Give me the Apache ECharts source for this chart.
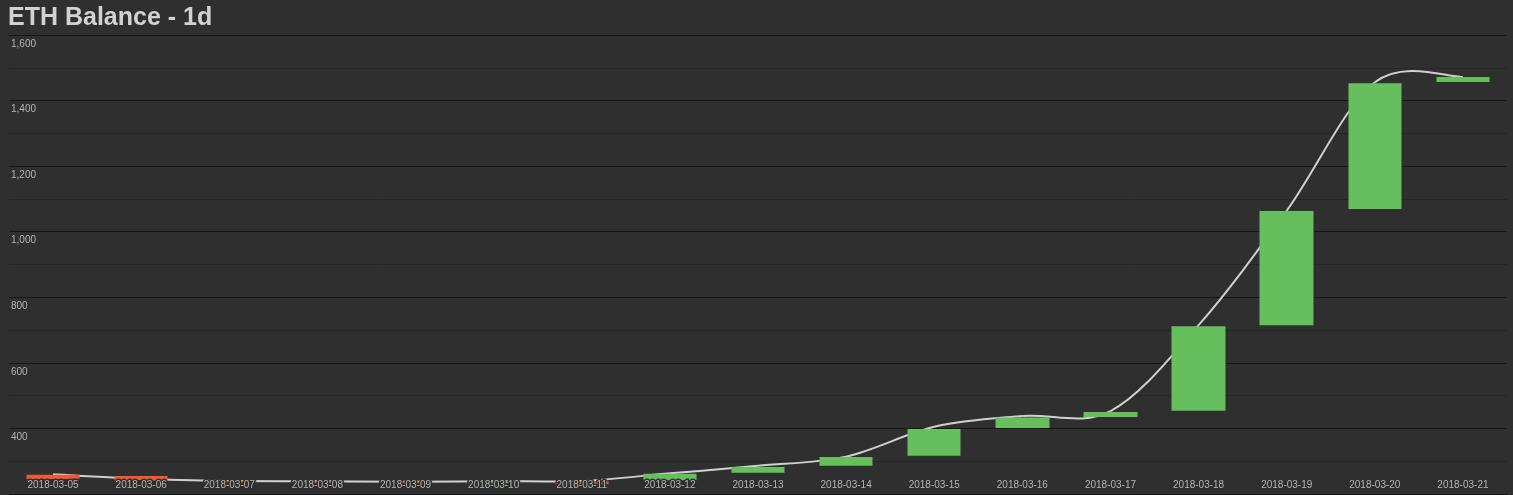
<!DOCTYPE html>
<html>
<head>
<meta charset="utf-8">
<script src="https://cdn.jsdelivr.net/npm/echarts@6/dist/echarts.min.js"></script>
<style>
html,body{margin:0;padding:0;background:#2f2f2f;}
#chart{width:1513px;height:495px;}
</style>
</head>
<body>
<div id="chart"></div>
<script>
var categories = ['2018-03-05','2018-03-06','2018-03-07','2018-03-08','2018-03-09','2018-03-10','2018-03-11','2018-03-12','2018-03-13','2018-03-14','2018-03-15','2018-03-16','2018-03-17','2018-03-18','2018-03-19','2018-03-20','2018-03-21'];
var openValues  = [259, 255, 241, 239, 238, 233, 239, 242, 265, 286, 317, 401, 435, 454, 715, 1069, 1457];
var closeValues = [246, 243, 236, 234, 233, 240, 230, 262, 282, 313, 398, 433, 450, 712, 1063, 1453, 1472];
var balanceLine = [260, 246, 240, 239, 237, 239, 240, 263, 286, 314, 405, 438, 453, 715, 1064, 1456, 1472];

var candleData = categories.map(function (c, i) {
  var o = openValues[i], cl = closeValues[i];
  return [o, cl, Math.min(o, cl), Math.max(o, cl)];
});
var lineData = balanceLine.map(function (v, i) { return [i, v]; });

function renderSpline(params, api) {
  var i = params.dataIndex;
  var n = balanceLine.length;
  if (i >= n - 1) return null;
  function pt(k) {
    k = Math.max(0, Math.min(n - 1, k));
    return api.coord([k, balanceLine[k]]);
  }
  var p0 = pt(i - 1), p1 = pt(i), p2 = pt(i + 1), p3 = pt(i + 2);
  return {
    type: 'bezierCurve',
    shape: {
      x1: p1[0], y1: p1[1],
      x2: p2[0], y2: p2[1],
      cpx1: p1[0] + (p2[0] - p0[0]) / 6, cpy1: p1[1] + (p2[1] - p0[1]) / 6,
      cpx2: p2[0] - (p3[0] - p1[0]) / 6, cpy2: p2[1] - (p3[1] - p1[1]) / 6
    },
    style: {stroke: '#d0d0d0', lineWidth: 2, fill: null}
  };
}

var chart = echarts.init(document.getElementById('chart'), null, {renderer: 'canvas'});
chart.setOption({
  backgroundColor: '#2f2f2f',
  animation: false,
  title: {
    text: 'ETH Balance - 1d',
    left: 3,
    top: 1,
    textStyle: {color: '#d2d2d2', fontSize: 25, fontWeight: 'bold', fontFamily: 'Liberation Sans, Arial, sans-serif'}
  },
  grid: {left: 9, right: 6, top: 35, bottom: 1, containLabel: false},
  xAxis: {
    type: 'category',
    data: categories,
    z: 10,
    axisLine: {show: true, lineStyle: {color: '#141414', width: 1}},
    axisTick: {show: false},
    splitLine: {show: false},
    axisLabel: {
      inside: true,
      margin: 4,
      color: '#b4b4b4',
      fontSize: 10,
      fontFamily: 'Liberation Sans, Arial, sans-serif',
      textBorderColor: '#2f2f2f',
      textBorderWidth: 3,
      interval: 0
    }
  },
  yAxis: {
    type: 'value',
    min: 200,
    max: 1600,
    interval: 100,
    axisLine: {show: false},
    axisTick: {show: false},
    splitLine: {show: true, lineStyle: {color: ['#161616', '#262626'], width: 1}},
    axisLabel: {
      inside: true,
      margin: 2,
      verticalAlign: 'top',
      padding: [4, 0, 0, 0],
      color: '#b4b4b4',
      fontSize: 10,
      fontFamily: 'Liberation Sans, Arial, sans-serif',
      formatter: function (v) {
        if (v % 200 !== 0 || v < 400) return '';
        return v.toLocaleString('en-US');
      }
    }
  },
  series: [
    {
      type: 'custom',
      data: lineData,
      encode: {x: 0, y: 1},
      renderItem: renderSpline,
      z: 1,
      clip: true
    },
    {
      type: 'candlestick',
      data: candleData,
      barWidth: 54,
      z: 2,
      itemStyle: {
        color: '#66bf5c',
        color0: '#f25a2c',
        borderColor: '#66bf5c',
        borderColor0: '#f25a2c',
        borderWidth: 0
      }
    }
  ]
});
</script>
</body>
</html>
